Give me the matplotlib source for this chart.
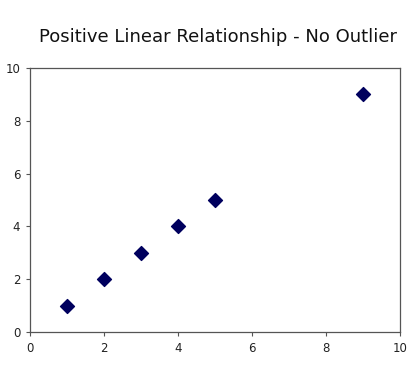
import matplotlib.pyplot as plt

# data
x = [1, 2, 3, 4, 5, 9]
y = [1, 2, 3, 4, 5, 9]
ticks = [0, 2, 4, 6, 8, 10]

fig = plt.figure(figsize=(4.07, 3.82), dpi=100)
ax = fig.add_axes([0.0737, 0.131, 0.909, 0.691])
ax.scatter(x, y, marker='D', s=50, color='#00005e', zorder=3)

ax.set_xlim(0, 10)
ax.set_ylim(0, 10)
ax.set_xticks(ticks)
ax.set_yticks(ticks)
ax.tick_params(direction='out', length=3, width=0.8, color='#555555',
               labelsize=8.5, labelcolor='#222222', pad=4)
for s in ax.spines.values():
    s.set_color('#555555')
    s.set_linewidth(0.9)

fig.text(0.535, 0.903, 'Positive Linear Relationship - No Outlier',
         ha='center', va='center', fontsize=13, color='#111111')

fig.savefig('out.png', dpi=100)
